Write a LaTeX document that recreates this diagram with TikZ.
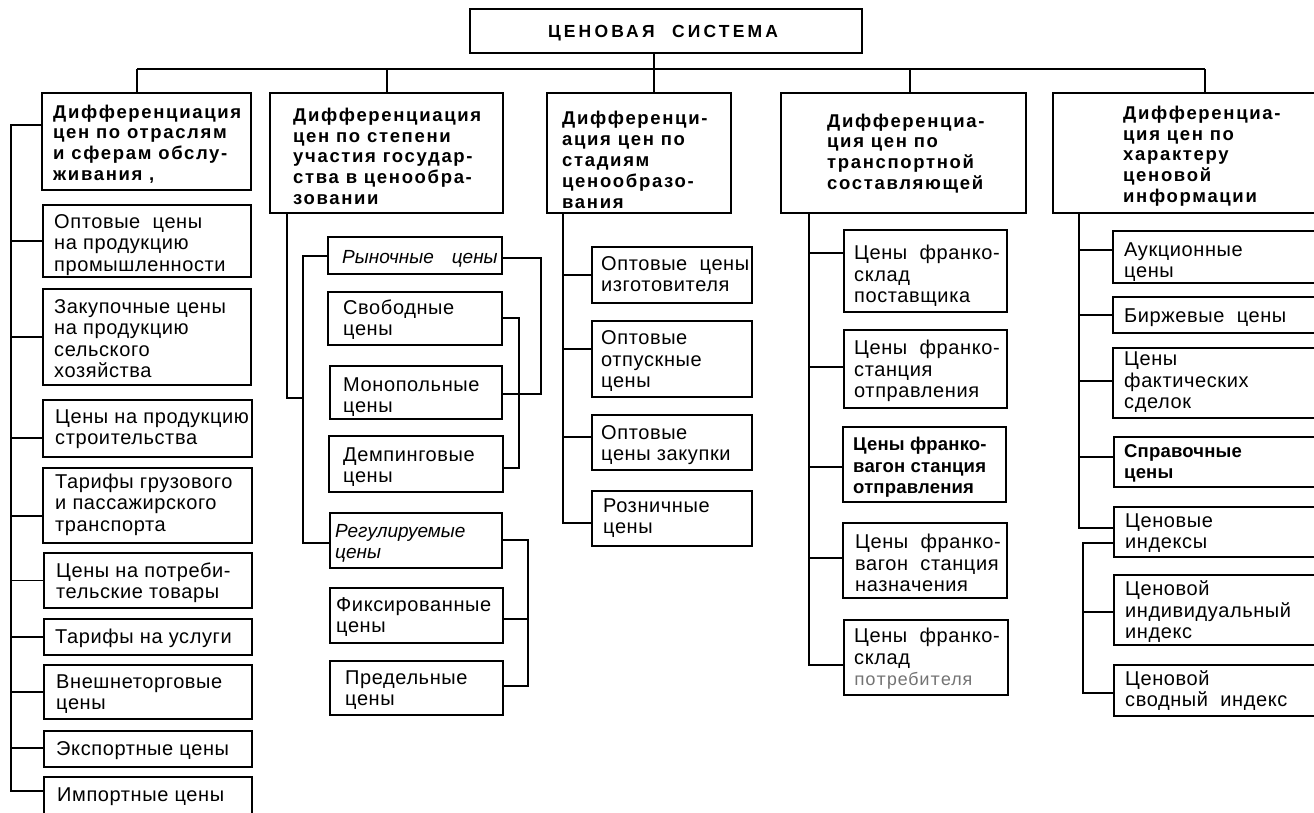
\documentclass[tikz,border=0pt]{standalone}
\usepackage{fontspec}
\setmainfont{Liberation Sans}
\newfontfamily\trk[LetterSpace=3]{Liberation Sans}
\newfontfamily\hdf[LetterSpace=9]{Liberation Sans}
\newfontfamily\ttl[LetterSpace=18]{Liberation Sans}
\newfontfamily\hvy[LetterSpace=1]{Liberation Sans}
\newfontfamily\mno{Liberation Mono}
\usetikzlibrary{fit}

% box given by two corners, connector line, text styles
% (text nodes are placed by the baseline of their last line)
\tikzset{
  bx/.style={draw, line width=2.5pt, inner sep=0pt, fit={#1}},
  ln/.style={line width=1.8pt},
  tx/.style={anchor=base west, align=left, inner sep=0pt,
             font=\trk\fontsize{20}{21.3}\selectfont},
  hd/.style={anchor=base west, align=left, inner sep=0pt,
             font=\hdf\bfseries\fontsize{18.5}{20.8}\selectfont},
  it/.style={anchor=base west, align=left, inner sep=0pt,
             font=\rmfamily\itshape\fontsize{19}{21.3}\selectfont},
  hv/.style={anchor=base west, align=left, inner sep=0pt,
             font=\hvy\bfseries\fontsize{18.5}{21.3}\selectfont},
}

% horizontal stubs from a box side to a vertical spine
\newcommand\lstub[3]{\path ([yshift=#2]#1.west) coordinate (tmpw);
  \draw[ln] (tmpw) -- (tmpw -| #3);}
\newcommand\rstub[3]{\path ([yshift=#2]#1.east) coordinate (tmpe);
  \draw[ln] (tmpe) -- (tmpe -| #3);}

\begin{document}
\begin{tikzpicture}[x=1pt,y=-1pt]
\useasboundingbox (0,0) rectangle (1314,812);

% ---------- title and bus ----------
\node[bx={(470,9)(862,53)}] (title) {};
\node[anchor=base, inner sep=0pt, font=\ttl\bfseries\fontsize{17.5}{20}\selectfont]
  (titlet) at (663,37) {ЦЕНОВАЯ\quad СИСТЕМА};

\coordinate (busL) at (137,69);
\coordinate (bus2) at (387,69);
\coordinate (bus3) at (654,69);
\coordinate (bus4) at (910,69);
\coordinate (busR) at (1205,69);

% ---------- column headers ----------
\node[bx={(42,93)(251,190)}]   (h1) {};
\node[bx={(270,93)(503,213)}]  (h2) {};
\node[bx={(547,93)(731,213)}]  (h3) {};
\node[bx={(781,93)(1026,213)}] (h4) {};
\node[bx={(1053,93)(1335,213)}] (h5) {};

\node[hd] (h1t) at (53,180.5)  {Дифференциация\\цен по отраслям\\и сферам обслу-\\живания ,};
\node[hd] (h2t) at (293,204.5) {Дифференциация\\цен по степени\\участия государ-\\ства в ценообра-\\зовании};
\node[hd] (h3t) at (562,208) {Дифференци-\\ация цен по\\стадиям\\ценообразо-\\вания};
\node[hd] (h4t) at (827,189.5) {Дифференциа-\\ция цен по\\транспортной\\составляющей};
\node[hd] (h5t) at (1123,202.5) {Дифференциа-\\ция цен по\\характеру\\ценовой\\информации};

\draw[ln] (busL) -- (busR);
\draw[ln] (title.south -| bus3) -- (h3.north -| bus3);
\draw[ln] (busL) -- (h1.north -| busL);
\draw[ln] (bus2) -- (h2.north -| bus2);
\draw[ln] (bus4) -- (h4.north -| bus4);
\draw[ln] (busR) -- (h5.north -| busR);

% ---------- column 1 ----------
\node[bx={(43,205)(251,277)}] (a1) {};
\node[bx={(43,289)(251,385)}] (a2) {};
\node[bx={(43,400)(252,457)}] (a3) {};
\node[bx={(43,468)(252,543)}] (a4) {};
\node[bx={(44,553)(252,608)}] (a5) {};
\node[bx={(44,619)(252,655)}] (a6) {};
\node[bx={(44,665)(252,719)}] (a7) {};
\node[bx={(44,731)(252,767)}] (a8) {};
\node[bx={(44,777)(252,816)}] (a9) {};

\node[tx] (a1t) at (54,271) {Оптовые\ \ цены\\на продукцию\\промышленности};
\node[tx] (a2t) at (54,377.5) {Закупочные цены\\на продукцию\\сельского\\хозяйства};
\node[tx] (a3t) at (55,444.5) {Цены на продукцию\\строительства};
\node[tx] (a4t) at (55,531) {Тарифы грузового\\и пассажирского\\транспорта};
\node[tx] (a5t) at (56,598.5) {Цены на потреби-\\тельские товары};
\node[tx] (a6t) at (55,643) {Тарифы на услуги};
\node[tx] (a7t) at (56,709.5) {Внешнеторговые\\цены};
\node[tx] (a8t) at (56,755) {Экспортные цены};
\node[tx] (a9t) at (57,801) {Импортные цены};

\coordinate (s1t) at (11,125);
\coordinate (s1b) at (11,791);
\draw[ln] (h1.west |- s1t) -- (s1t) -- (s1b) -- (a9.west |- s1b);
\lstub{a1}{0pt}{s1t}
\lstub{a2}{0pt}{s1t}
\lstub{a3}{-9.5pt}{s1t}
\lstub{a4}{-10.5pt}{s1t}
\lstub{a5}{0pt}{s1t}
\lstub{a6}{0pt}{s1t}
\lstub{a7}{0pt}{s1t}
\lstub{a8}{1pt}{s1t}

% ---------- column 2 ----------
\node[bx={(328,237)(502,274)}] (b1) {};
\node[bx={(328,292)(502,345)}] (b2) {};
\node[bx={(330,366)(502,419)}] (b3) {};
\node[bx={(329,436)(503,492)}] (b4) {};
\node[bx={(330,513)(502,568)}] (b5) {};
\node[bx={(330,588)(503,643)}] (b6) {};
\node[bx={(330,661)(503,715)}] (b7) {};

\node[it] (b1t) at (342,263) {Рыночные\hspace{18pt}цены};
\node[tx] (b2t) at (343,335.5) {Свободные\\цены};
\node[tx] (b3t) at (343,412.5) {Монопольные\\цены};
\node[tx] (b4t) at (343,482.5) {Демпинговые\\цены};
\node[it] (b5t) at (335,558.5) {Регулируемые\\цены};
\node[tx] (b6t) at (336,632.5) {Фиксированные\\цены};
\node[tx] (b7t) at (345,705.5) {Предельные\\цены};

\coordinate (s2)  at (287,398);
\coordinate (s2j) at (303,398);
\draw[ln] (h2.south -| s2) -- (s2) -- (s2j);
\coordinate (q2t) at (303,256);
\coordinate (q2b) at (303,543);
\draw[ln] (b1.west |- q2t) -- (q2t) -- (q2b) -- (b5.west |- q2b);

\coordinate (r1t) at (541,258);
\coordinate (r1b) at (541,394);
\draw[ln] (b1.east |- r1t) -- (r1t) -- (r1b) -- (b3.east |- r1b);
\coordinate (r2t) at (519,318);
\coordinate (r2b) at (519,468);
\draw[ln] (b2.east |- r2t) -- (r2t) -- (r2b) -- (b4.east |- r2b);
\coordinate (r3t) at (528,540);
\coordinate (r3b) at (528,686);
\draw[ln] (b5.east |- r3t) -- (r3t) -- (r3b) -- (b7.east |- r3b);
\rstub{b6}{-3.5pt}{r3t}

% ---------- column 3 ----------
\node[bx={(592,247)(752,303)}] (c1) {};
\node[bx={(592,321)(752,397)}] (c2) {};
\node[bx={(592,415)(752,470)}] (c3) {};
\node[bx={(592,491)(752,546)}] (c4) {};

\node[tx] (c1t) at (601,291.5) {Оптовые\ \ цены\\изготовителя};
\node[tx] (c2t) at (601,387.5) {Оптовые\\отпускные\\цены};
\node[tx] (c3t) at (601,460.5) {Оптовые\\цены закупки};
\node[tx] (c4t) at (603,533.5) {Розничные\\цены};

\coordinate (s3b) at (563,523);
\draw[ln] (h3.south -| s3b) -- (s3b) -- (c4.west |- s3b);
\lstub{c1}{0pt}{s3b}
\lstub{c2}{10pt}{s3b}
\lstub{c3}{5.5pt}{s3b}

% ---------- column 4 ----------
\node[bx={(844,230)(1007,312)}] (d1) {};
\node[bx={(844,330)(1007,408)}] (d2) {};
\node[bx={(843,427)(1006,502)}] (d3) {};
\node[bx={(843,523)(1007,598)}] (d4) {};
\node[bx={(844,620)(1008,695)}] (d5) {};

\node[tx] (d1t) at (854,302.5) {Цены\ \ франко-\\склад\\поставщика};
\node[tx] (d2t) at (854,397.5) {Цены\ \ франко-\\станция\\отправления};
\node[hv] (d3t) at (853,493.5) {Цены франко-\\вагон станция\\отправления};
\node[tx] (d4t) at (855,591.5) {Цены\ \ франко-\\вагон\ \ станция\\назначения};
\node[tx] (d5t) at (854,685.5) {Цены\ \ франко-\\склад\\{\mno\color{black!55}\fontsize{18}{21.3}\selectfont потребителя}};

\coordinate (s4b) at (809,665);
\draw[ln] (h4.south -| s4b) -- (s4b) -- (d5.west |- s4b);
\lstub{d1}{18pt}{s4b}
\lstub{d2}{2pt}{s4b}
\lstub{d3}{-2.5pt}{s4b}
\lstub{d4}{2.5pt}{s4b}

% ---------- column 5 ----------
\node[bx={(1113,231)(1335,283)}] (e1) {};
\node[bx={(1113,297)(1335,333)}] (e2) {};
\node[bx={(1113,348)(1335,418)}] (e3) {};
\node[bx={(1114,437)(1335,487)}] (e4) {};
\node[bx={(1114,507)(1335,557)}] (e5) {};
\node[bx={(1114,575)(1335,645)}] (e6) {};
\node[bx={(1114,665)(1335,716)}] (e7) {};

\node[tx] (e1t) at (1124,277.5) {Аукционные\\цены};
\node[tx] (e2t) at (1124,322) {Биржевые\ \ цены};
\node[tx] (e3t) at (1124,408.5) {Цены\\фактических\\сделок};
\node[hv] (e4t) at (1124,478.5) {Справочные\\цены};
\node[tx] (e5t) at (1125,548.5) {Ценовые\\индексы};
\node[tx] (e6t) at (1125,638.5) {Ценовой\\индивидуальный\\индекс};
\node[tx] (e7t) at (1125,706.5) {Ценовой\\сводный\ \ индекс};

\coordinate (s5b) at (1079,528);
\draw[ln] (h5.south -| s5b) -- (s5b) -- (e5.west |- s5b);
\lstub{e1}{7pt}{s5b}
\lstub{e2}{0pt}{s5b}
\lstub{e3}{2pt}{s5b}
\lstub{e4}{5pt}{s5b}
\coordinate (q5t) at (1083,543);
\coordinate (q5b) at (1083,693);
\draw[ln] (e5.west |- q5t) -- (q5t) -- (q5b) -- (e7.west |- q5b);
\lstub{e6}{-2pt}{q5t}
\end{tikzpicture}
\end{document}
